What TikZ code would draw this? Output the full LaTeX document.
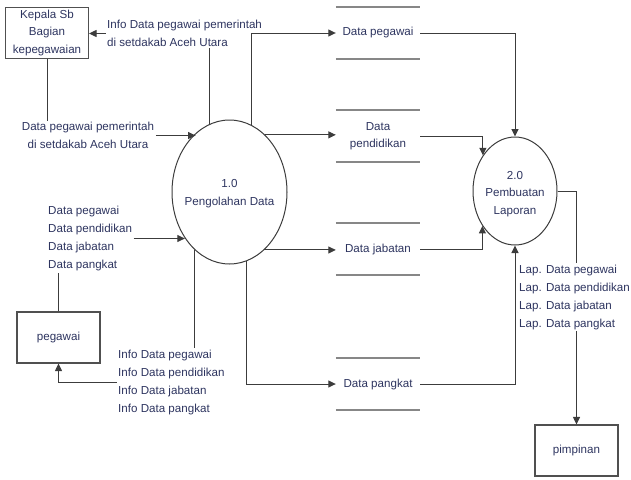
\documentclass[tikz,border=0pt]{standalone}
\usepackage{fontspec}
\setmainfont{Liberation Sans}
\usetikzlibrary{shapes.geometric,arrows.meta}
\definecolor{txtc}{RGB}{45,52,95}
\definecolor{linec}{RGB}{60,60,60}
\definecolor{boxc}{RGB}{80,80,80}
\definecolor{storec}{RGB}{135,135,135}
\tikzset{
  ent/.style={draw=boxc, line width=1.1pt, minimum width=83pt, minimum height=51pt, inner sep=0pt, align=center},
  proc/.style={ellipse, draw=linec, line width=1pt, inner sep=0pt},
  store/.style={minimum width=84pt, minimum height=52pt, inner sep=0pt, align=center},
  storeline/.style={draw=storec, line width=2pt},
  lbl/.style={inner sep=1.5pt},
  lbltall/.style={inner sep=1.5pt, font=\fontsize{11.6}{18}\selectfont},
  flow/.style={draw=linec, line width=1pt},
  arr/.style={flow, -{Triangle[length=7.5pt,width=7pt]}}
}
\begin{document}
\begin{tikzpicture}[x=1pt, y=-1pt, font=\fontsize{11.6}{17.5}\selectfont, text=txtc]
\useasboundingbox (0,0) rectangle (631,479);

% external entities
\node[ent] (kep) at (47,33) {Kepala Sb\\Bagian\\kepegawaian};
\node[ent] (peg) at (58.5,337.5) {pegawai};
\node[ent] (pim) at (576.5,450.5) {pimpinan};

% processes
\node[proc, minimum width=115pt, minimum height=144pt] (p1) at (229.5,192) {};
\node[lbl, align=center] (p1t) at (229.5,193.5) {1.0\\Pengolahan Data};
\node[proc, minimum width=84pt, minimum height=108pt] (p2) at (515,191) {};
\node[lbl, align=center] (p2t) at (515,194) {2.0\\Pembuatan\\Laporan};

% data stores
\node[store] (s1) at (378,33) {Data pegawai};
\node[store] (s2) at (378,136) {Data\\pendidikan};
\node[store] (s3) at (378,249) {Data jabatan};
\node[store] (s4) at (378,384) {Data pangkat};
\foreach \s in {s1,s2,s3,s4}{
  \draw[storeline] (\s.north west) -- (\s.north east);
  \draw[storeline] (\s.south west) -- (\s.south east);
}

% flow labels
\node[lbl, anchor=west, align=left] (infokep) at (105.5,33.5) {Info Data pegawai pemerintah\\di setdakab Aceh Utara};
\node[lbl, align=center] (datakep) at (88,135.5) {Data pegawai pemerintah\\di setdakab Aceh Utara};
\node[lbltall, anchor=west, align=left] (datain) at (46.5,238.5) {Data pegawai\\Data pendidikan\\Data jabatan\\Data pangkat};
\node[lbltall, anchor=west, align=left] (info) at (116.5,382.5) {Info Data pegawai\\Info Data pendidikan\\Info Data jabatan\\Info Data pangkat};
\node[lbltall, anchor=west, align=left] (lap) at (517.5,297) {Lap. Data pegawai\\Lap. Data pendidikan\\Lap. Data jabatan\\Lap. Data pangkat};

% Kepala <-> process 1.0
\draw[flow] (p1.106.5) -- (p1.106.5 |- infokep.south);
\draw[arr] (infokep.west) -- (kep.east |- infokep.west);
\draw[flow] (kep.south) -- (kep.south |- datakep.north);
\draw[arr] (datakep.east) -- (datakep.east -| p1.120.5);

% pegawai <-> process 1.0
\draw[flow] (peg.north) -- (peg.north |- datain.south);
\draw[arr] (datain.east) -- (datain.east -| p1.226.1);
\draw[flow] (p1.239.1) -- (p1.239.1 |- info.north);
\draw[arr] (info.west) -| (peg.south);

% process 1.0 -> data stores
\draw[arr] (p1.72.4) |- (s1.west);
\draw[arr] (p1.58.4) -- (p1.58.4 -| s2.west);
\draw[arr] (p1.301.6) -- (p1.301.6 -| s3.west);
\draw[arr] (p1.284.3) |- (s4.west);

% data stores -> process 2.0
\draw[arr] (s1.east) -| (p2.north);
\draw[arr] (s2.east) -| (p2.132.4);
\draw[arr] (s3.east) -| (p2.227.6);
\draw[arr] (s4.east) -| (p2.south);

% process 2.0 -> pimpinan
\draw[flow] (p2.east) -| (lap.north -| pim.north);
\draw[arr] (lap.south -| pim.north) -- (pim.north);
\end{tikzpicture}
\end{document}
